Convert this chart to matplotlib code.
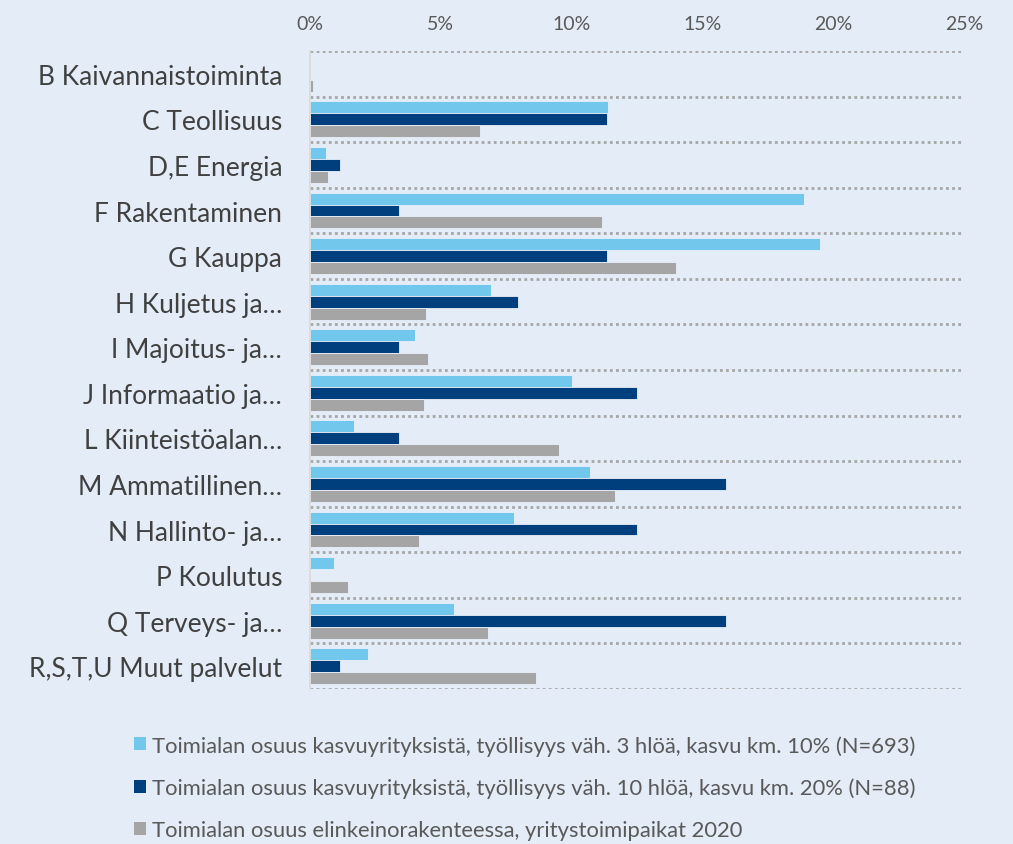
import matplotlib
matplotlib.use("Agg")
import matplotlib.pyplot as plt
import numpy as np
from matplotlib.patches import Patch

categories = ["B Kaivannaistoiminta", "C Teollisuus", "D,E Energia", "F Rakentaminen",
              "G Kauppa", "H Kuljetus ja…", "I Majoitus- ja…", "J Informaatio ja…",
              "L Kiinteistöalan…", "M Ammatillinen…", "N Hallinto- ja…", "P Koulutus",
              "Q Terveys- ja…", "R,S,T,U Muut palvelut"]
s_kasvu3 = [0.0, 11.4, 0.6, 18.9, 19.5, 6.9, 4.0, 10.0, 1.7, 10.7, 7.8, 0.9, 5.5, 2.2]
s_kasvu10 = [0.0, 11.36, 1.14, 3.41, 11.36, 7.95, 3.41, 12.5, 3.41, 15.91, 12.5, 0.0, 15.91, 1.14]
s_rakenne = [0.1, 6.5, 0.7, 11.15, 14.0, 4.45, 4.5, 4.35, 9.5, 11.65, 4.15, 1.45, 6.8, 8.65]
xticks = [0, 5, 10, 15, 20, 25]
xticklabels = ["0%", "5%", "10%", "15%", "20%", "25%"]
labels = ["Toimialan osuus kasvuyrityksistä, työllisyys väh. 3 hlöä, kasvu km. 10% (N=693)",
          "Toimialan osuus kasvuyrityksistä, työllisyys väh. 10 hlöä, kasvu km. 20% (N=88)",
          "Toimialan osuus elinkeinorakenteessa, yritystoimipaikat 2020"]
colors = ["#72C8EC", "#003F7D", "#A5A5A5"]

bg = "#E4ECF7"
plt.rcParams['font.family'] = ['Lato', 'DejaVu Sans']

fig = plt.figure(figsize=(10.13, 8.45), dpi=100, facecolor=bg)
ax = fig.add_axes([310/1013, 1-690/845, (964-310)/1013, (690-52)/845])
ax.set_facecolor(bg)

y = np.arange(len(categories))
h = 0.263
for vals, off, col in zip([s_kasvu3, s_kasvu10, s_rakenne], [-h, 0, h], colors):
    ax.barh(y + off, vals, height=h, color=col, edgecolor="#E8F0FA", linewidth=0.6)

ax.set_ylim(len(categories) - 0.5, -0.5)
ax.set_xlim(0, 25)
for b in np.arange(-0.5, len(categories), 1.0):
    ax.axhline(b, color="#A6A6A6", linewidth=2.0, linestyle=(0, (1, 1.2)), zorder=0)

ax.xaxis.tick_top()
ax.set_xticks(xticks)
ax.set_xticklabels(xticklabels, fontsize=14, color="#595959")
ax.set_yticks(y)
ax.set_yticklabels(categories, fontsize=19, color="#404040")
ax.tick_params(axis='x', length=0, pad=14)
ax.tick_params(axis='y', length=0, pad=20)
for s in ["top", "right", "bottom"]:
    ax.spines[s].set_visible(False)
ax.spines["left"].set_color("#D9D9D9")
ax.spines["left"].set_linewidth(1.2)

handles = [Patch(facecolor=c, edgecolor="none") for c in colors]
leg = fig.legend(handles, labels, loc="upper left", bbox_to_anchor=(134/1013, 1-736/845),
                 frameon=False, fontsize=15.8, labelcolor="#595959",
                 handlelength=0.55, handleheight=0.55, handletextpad=0.25,
                 labelspacing=1.0, borderaxespad=0, borderpad=0)

fig.savefig("out.png", dpi=100, facecolor=bg)
